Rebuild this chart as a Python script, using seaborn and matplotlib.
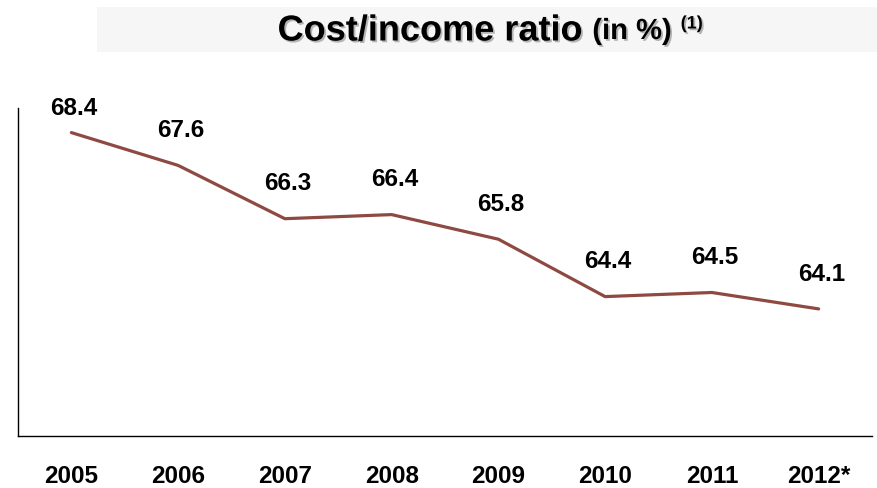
import matplotlib
matplotlib.use("Agg")
import matplotlib.pyplot as plt
import matplotlib.patheffects as pe
from matplotlib.patches import Rectangle
import seaborn as sns
import pandas as pd

years = ["2005", "2006", "2007", "2008", "2009", "2010", "2011", "2012*"]
ratio = [68.4, 67.6, 66.3, 66.4, 65.8, 64.4, 64.5, 64.1]

sns.set_theme(style="white")
plt.rcParams['font.family'] = ['Liberation Sans', 'DejaVu Sans']

df = pd.DataFrame({"year": years, "ratio": ratio})
df["pos"] = range(len(years))

W, H = 877, 488
fig = plt.figure(figsize=(W / 100, H / 100), dpi=100)
ax = fig.add_axes([18 / W, (H - 436) / H, (872 - 18) / W, (436 - 108) / H])

sns.lineplot(data=df, x="pos", y="ratio", ax=ax, color="#8E4A42", linewidth=2.3, sort=False)

ax.set_xlim(-0.5, len(years) - 0.5)
ax.set_ylim(61, 69)
ax.set_xticks(df["pos"])
ax.set_xticklabels(years, fontsize=17.5, fontweight="bold", color="black")
ax.set_yticks([])
ax.set_xlabel("")
ax.set_ylabel("")
ax.tick_params(axis="x", length=0, pad=21)
for s in ["top", "right"]:
    ax.spines[s].set_visible(False)
for s in ["left", "bottom"]:
    ax.spines[s].set_color("black")
    ax.spines[s].set_linewidth(1.0)

for i, v in enumerate(ratio):
    off = 17 if i == 0 else 25
    ax.annotate(f"{v:.1f}", xy=(i, v), xytext=(2, off), textcoords="offset points",
                ha="center", va="center", fontsize=17.5, fontweight="bold", color="black")

# title band
fig.patches.append(Rectangle((97 / W, (H - 52) / H), (W - 97) / W, 45 / H,
                             transform=fig.transFigure, facecolor="#F6F6F6",
                             edgecolor="none", zorder=0))

ty = (H - 31) / H
fig.canvas.draw()
r = fig.canvas.get_renderer()
parts = [("Cost/income ratio", 26, 0), ("(in %)", 21, 0), ("(1)", 13, 7)]
texts = []
for s, fs, dy in parts:
    t = fig.text(0, ty + dy / H, s, fontsize=fs, fontweight="bold", va="center", ha="left",
                 color="black",
                 path_effects=[pe.withSimplePatchShadow(offset=(1.3, -1.3),
                                                        shadow_rgbFace="#888888", alpha=0.6)])
    texts.append(t)
gaps = [0, 10, 9]
widths = [t.get_window_extent(r).width for t in texts]
total = sum(widths) + sum(gaps)
x = 490 - total / 2
for t, w, g in zip(texts, widths, gaps):
    x += g
    t.set_x(x / W)
    x += w

fig.savefig("out.png", dpi=100)
